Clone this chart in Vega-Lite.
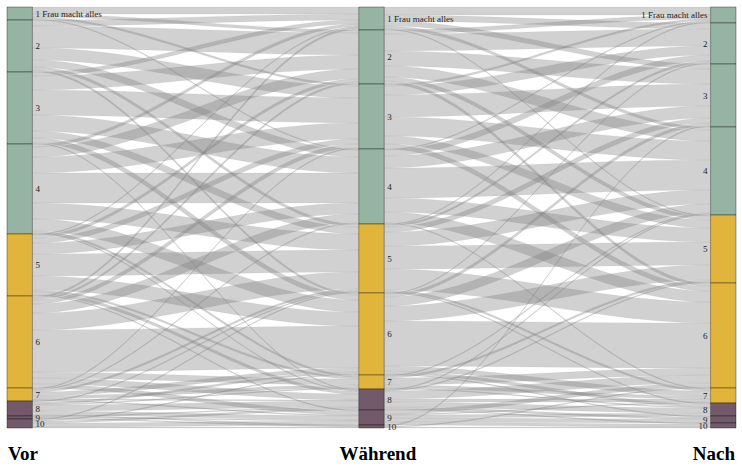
{
  "$schema": "https://vega.github.io/schema/vega-lite/v6.json",
  "width": 729,
  "height": 421,
  "autosize": {"type": "none"},
  "padding": {"left": 7, "top": 7, "right": 6, "bottom": 42},
  "background": "white",
  "config": {"view": {"stroke": null}},
  "data": {"values": [
    {"seg":0,"src":1,"dst":1,"n":7},{"seg":0,"src":1,"dst":2,"n":3},{"seg":0,"src":1,"dst":3,"n":2},{"seg":0,"src":1,"dst":4,"n":1},
    {"seg":0,"src":2,"dst":1,"n":6},{"seg":0,"src":2,"dst":2,"n":22},{"seg":0,"src":2,"dst":3,"n":12},{"seg":0,"src":2,"dst":4,"n":7},{"seg":0,"src":2,"dst":5,"n":3},{"seg":0,"src":2,"dst":6,"n":2},
    {"seg":0,"src":3,"dst":1,"n":4},{"seg":0,"src":3,"dst":2,"n":14},{"seg":0,"src":3,"dst":3,"n":25},{"seg":0,"src":3,"dst":4,"n":16},{"seg":0,"src":3,"dst":5,"n":7},{"seg":0,"src":3,"dst":6,"n":5},{"seg":0,"src":3,"dst":8,"n":1},
    {"seg":0,"src":4,"dst":1,"n":3},{"seg":0,"src":4,"dst":2,"n":10},{"seg":0,"src":4,"dst":3,"n":16},{"seg":0,"src":4,"dst":4,"n":30},{"seg":0,"src":4,"dst":5,"n":16},{"seg":0,"src":4,"dst":6,"n":12},{"seg":0,"src":4,"dst":7,"n":2},{"seg":0,"src":4,"dst":8,"n":1},
    {"seg":0,"src":5,"dst":1,"n":1},{"seg":0,"src":5,"dst":2,"n":3},{"seg":0,"src":5,"dst":3,"n":5},{"seg":0,"src":5,"dst":4,"n":11},{"seg":0,"src":5,"dst":5,"n":22},{"seg":0,"src":5,"dst":6,"n":14},{"seg":0,"src":5,"dst":7,"n":2},{"seg":0,"src":5,"dst":8,"n":3},{"seg":0,"src":5,"dst":9,"n":1},
    {"seg":0,"src":6,"dst":1,"n":2},{"seg":0,"src":6,"dst":2,"n":2},{"seg":0,"src":6,"dst":3,"n":4},{"seg":0,"src":6,"dst":4,"n":9},{"seg":0,"src":6,"dst":5,"n":17},{"seg":0,"src":6,"dst":6,"n":42},{"seg":0,"src":6,"dst":7,"n":6},{"seg":0,"src":6,"dst":8,"n":6},{"seg":0,"src":6,"dst":9,"n":4},
    {"seg":0,"src":7,"dst":3,"n":1},{"seg":0,"src":7,"dst":4,"n":1},{"seg":0,"src":7,"dst":5,"n":2},{"seg":0,"src":7,"dst":6,"n":4},{"seg":0,"src":7,"dst":7,"n":3},{"seg":0,"src":7,"dst":8,"n":1},{"seg":0,"src":7,"dst":9,"n":1},
    {"seg":0,"src":8,"dst":5,"n":1},{"seg":0,"src":8,"dst":6,"n":2},{"seg":0,"src":8,"dst":7,"n":1},{"seg":0,"src":8,"dst":8,"n":6},{"seg":0,"src":8,"dst":9,"n":4},{"seg":0,"src":8,"dst":10,"n":1},
    {"seg":0,"src":9,"dst":8,"n":1},{"seg":0,"src":9,"dst":9,"n":1},{"seg":0,"src":9,"dst":10,"n":1},
    {"seg":0,"src":10,"dst":5,"n":1},{"seg":0,"src":10,"dst":6,"n":1},{"seg":0,"src":10,"dst":8,"n":2},{"seg":0,"src":10,"dst":9,"n":4},{"seg":0,"src":10,"dst":10,"n":1},
    {"seg":1,"src":1,"dst":1,"n":8},{"seg":1,"src":1,"dst":2,"n":6},{"seg":1,"src":1,"dst":3,"n":5},{"seg":1,"src":1,"dst":4,"n":3},{"seg":1,"src":1,"dst":5,"n":1},
    {"seg":1,"src":2,"dst":1,"n":4},{"seg":1,"src":2,"dst":2,"n":17},{"seg":1,"src":2,"dst":3,"n":15},{"seg":1,"src":2,"dst":4,"n":11},{"seg":1,"src":2,"dst":5,"n":4},{"seg":1,"src":2,"dst":6,"n":3},
    {"seg":1,"src":3,"dst":1,"n":2},{"seg":1,"src":3,"dst":2,"n":9},{"seg":1,"src":3,"dst":3,"n":22},{"seg":1,"src":3,"dst":4,"n":19},{"seg":1,"src":3,"dst":5,"n":8},{"seg":1,"src":3,"dst":6,"n":5},
    {"seg":1,"src":4,"dst":1,"n":1},{"seg":1,"src":4,"dst":2,"n":6},{"seg":1,"src":4,"dst":3,"n":12},{"seg":1,"src":4,"dst":4,"n":30},{"seg":1,"src":4,"dst":5,"n":14},{"seg":1,"src":4,"dst":6,"n":11},{"seg":1,"src":4,"dst":7,"n":1},
    {"seg":1,"src":5,"dst":1,"n":1},{"seg":1,"src":5,"dst":2,"n":2},{"seg":1,"src":5,"dst":3,"n":5},{"seg":1,"src":5,"dst":4,"n":14},{"seg":1,"src":5,"dst":5,"n":23},{"seg":1,"src":5,"dst":6,"n":21},{"seg":1,"src":5,"dst":7,"n":2},{"seg":1,"src":5,"dst":8,"n":1},
    {"seg":1,"src":6,"dst":2,"n":1},{"seg":1,"src":6,"dst":3,"n":3},{"seg":1,"src":6,"dst":4,"n":9},{"seg":1,"src":6,"dst":5,"n":15},{"seg":1,"src":6,"dst":6,"n":45},{"seg":1,"src":6,"dst":7,"n":5},{"seg":1,"src":6,"dst":8,"n":3},{"seg":1,"src":6,"dst":9,"n":1},
    {"seg":1,"src":7,"dst":4,"n":1},{"seg":1,"src":7,"dst":5,"n":2},{"seg":1,"src":7,"dst":6,"n":7},{"seg":1,"src":7,"dst":7,"n":3},{"seg":1,"src":7,"dst":8,"n":1},
    {"seg":1,"src":8,"dst":4,"n":1},{"seg":1,"src":8,"dst":5,"n":1},{"seg":1,"src":8,"dst":6,"n":8},{"seg":1,"src":8,"dst":7,"n":3},{"seg":1,"src":8,"dst":8,"n":5},{"seg":1,"src":8,"dst":9,"n":2},{"seg":1,"src":8,"dst":10,"n":1},
    {"seg":1,"src":9,"dst":6,"n":4},{"seg":1,"src":9,"dst":7,"n":1},{"seg":1,"src":9,"dst":8,"n":3},{"seg":1,"src":9,"dst":9,"n":4},{"seg":1,"src":9,"dst":10,"n":3},
    {"seg":1,"src":10,"dst":3,"n":1},{"seg":1,"src":10,"dst":6,"n":1},{"seg":1,"src":10,"dst":10,"n":1}
  ]},
  "layer": [
    {
      "transform": [
        {"window": [{"op": "sum", "field": "n", "as": "l1"}], "groupby": ["seg"], "sort": [{"field": "src"}, {"field": "dst"}], "frame": [null, 0]},
        {"window": [{"op": "sum", "field": "n", "as": "r1"}], "groupby": ["seg"], "sort": [{"field": "dst"}, {"field": "src"}], "frame": [null, 0]},
        {"calculate": "'f' + datum.seg + '_' + datum.src + '_' + datum.dst", "as": "fid"},
        {"fold": ["p0", "p1", "p2", "p3"], "as": ["pk", "pv"]},
        {"calculate": "datum.seg + 0.0361 + (datum.pk == 'p0' ? 0 : datum.pk == 'p1' ? 0.01 : datum.pk == 'p2' ? 0.99 : 1) * 0.9278", "as": "ax_x"},
        {"calculate": "(datum.pk == 'p0' || datum.pk == 'p1') ? datum.l1 - datum.n : datum.r1 - datum.n", "as": "ax_y"},
        {"calculate": "(datum.pk == 'p0' || datum.pk == 'p1') ? datum.l1 : datum.r1", "as": "ax_y2"}
      ],
      "mark": {"type": "area", "interpolate": "monotone", "fill": "#7f7f7f", "fillOpacity": 0.36, "stroke": "#7f7f7f", "strokeOpacity": 0.25, "strokeWidth": 0.3},
      "encoding": {
        "x": {"field": "ax_x", "type": "quantitative", "scale": {"domain": [-0.0361, 2.0361], "nice": false, "zero": false}, "axis": null},
        "y": {"field": "ax_y", "type": "quantitative", "scale": {"domain": [0, 421], "reverse": true, "nice": false, "zero": false}, "axis": null},
        "y2": {"field": "ax_y2"},
        "detail": {"field": "fid", "type": "nominal"}
      }
    },
    {
      "transform": [
        {"fold": ["e0", "e1"], "as": ["end", "v"]},
        {"filter": "datum.end == 'e0' || datum.seg == 1"},
        {"calculate": "datum.end == 'e0' ? datum.seg : datum.seg + 1", "as": "ax"},
        {"calculate": "datum.end == 'e0' ? datum.src : datum.dst", "as": "cat"},
        {"aggregate": [{"op": "sum", "field": "n", "as": "tot"}], "groupby": ["ax", "cat"]},
        {"window": [{"op": "sum", "field": "tot", "as": "b1"}], "groupby": ["ax"], "sort": [{"field": "cat"}], "frame": [null, 0]},
        {"calculate": "datum.b1 - datum.tot", "as": "b0"},
        {"calculate": "datum.ax - 0.0361", "as": "bx"},
        {"calculate": "datum.ax + 0.0361", "as": "bx2"}
      ],
      "mark": {"type": "rect", "stroke": "#000", "strokeOpacity": 0.35, "strokeWidth": 1},
      "encoding": {
        "x": {"field": "bx", "type": "quantitative", "scale": {"domain": [-0.0361, 2.0361], "nice": false, "zero": false}, "axis": null},
        "x2": {"field": "bx2"},
        "y": {"field": "b0", "type": "quantitative", "scale": {"domain": [0, 421], "reverse": true, "nice": false, "zero": false}, "axis": null},
        "y2": {"field": "b1"},
        "color": {"field": "cat", "type": "ordinal", "legend": null,
                  "scale": {"domain": [1,2,3,4,5,6,7,8,9,10], "range": ["#95b4a4","#95b4a4","#95b4a4","#95b4a4","#e1b53b","#e1b53b","#e1b53b","#735a6a","#735a6a","#735a6a"]}}
      }
    },
    {
      "transform": [
        {"fold": ["e0", "e1"], "as": ["end", "v"]},
        {"filter": "datum.end == 'e0' || datum.seg == 1"},
        {"calculate": "datum.end == 'e0' ? datum.seg : datum.seg + 1", "as": "ax"},
        {"calculate": "datum.end == 'e0' ? datum.src : datum.dst", "as": "cat"},
        {"aggregate": [{"op": "sum", "field": "n", "as": "tot"}], "groupby": ["ax", "cat"]},
        {"window": [{"op": "sum", "field": "tot", "as": "b1"}], "groupby": ["ax"], "sort": [{"field": "cat"}], "frame": [null, 0]},
        {"calculate": "datum.b1 - datum.tot / 2", "as": "bm"},
        {"calculate": "datum.ax + 0.0361", "as": "lx"},
        {"calculate": "datum.cat == 1 ? '1 Frau macht alles' : '' + datum.cat", "as": "lab"},
        {"filter": "datum.ax < 2"}
      ],
      "mark": {"type": "text", "align": "left", "baseline": "middle", "dx": 3, "font": "Liberation Serif", "fontSize": 9, "color": "#222"},
      "encoding": {
        "x": {"field": "lx", "type": "quantitative", "scale": {"domain": [-0.0361, 2.0361], "nice": false, "zero": false}, "axis": null},
        "y": {"field": "bm", "type": "quantitative", "scale": {"domain": [0, 421], "reverse": true, "nice": false, "zero": false}, "axis": null},
        "text": {"field": "lab"}
      }
    },
    {
      "transform": [
        {"filter": "datum.seg == 1"},
        {"aggregate": [{"op": "sum", "field": "n", "as": "tot"}], "groupby": ["dst"]},
        {"window": [{"op": "sum", "field": "tot", "as": "b1"}], "sort": [{"field": "dst"}], "frame": [null, 0]},
        {"calculate": "datum.b1 - datum.tot / 2", "as": "bm"},
        {"calculate": "2 - 0.0361", "as": "lx"},
        {"calculate": "datum.dst == 1 ? '1 Frau macht alles' : '' + datum.dst", "as": "lab"}
      ],
      "mark": {"type": "text", "align": "right", "baseline": "middle", "dx": -3, "font": "Liberation Serif", "fontSize": 9, "color": "#222"},
      "encoding": {
        "x": {"field": "lx", "type": "quantitative", "scale": {"domain": [-0.0361, 2.0361], "nice": false, "zero": false}, "axis": null},
        "y": {"field": "bm", "type": "quantitative", "scale": {"domain": [0, 421], "reverse": true, "nice": false, "zero": false}, "axis": null},
        "text": {"field": "lab"}
      }
    },
    {
      "data": {"values": [{"ax": 0, "name": "Vor"}, {"ax": 1, "name": "Während"}, {"ax": 2, "name": "Nach"}]},
      "transform": [
        {"calculate": "datum.ax == 0 ? datum.ax - 0.0361 : datum.ax == 1 ? datum.ax + 0.018 : datum.ax + 0.0361", "as": "tx"}
      ],
      "layer": [
        {
          "transform": [{"filter": "datum.ax == 0"}],
          "mark": {"type": "text", "align": "left", "baseline": "alphabetic", "dx": 1, "font": "Liberation Serif", "fontWeight": "bold", "fontSize": 19, "color": "#000"},
          "encoding": {
            "x": {"field": "tx", "type": "quantitative", "scale": {"domain": [-0.0361, 2.0361], "nice": false, "zero": false}, "axis": null},
            "y": {"datum": 453, "type": "quantitative", "scale": {"domain": [0, 421], "reverse": true, "nice": false, "zero": false}, "axis": null},
            "text": {"field": "name"}
          }
        },
        {
          "transform": [{"filter": "datum.ax == 1"}],
          "mark": {"type": "text", "align": "center", "baseline": "alphabetic", "font": "Liberation Serif", "fontWeight": "bold", "fontSize": 19, "color": "#000"},
          "encoding": {
            "x": {"field": "tx", "type": "quantitative", "scale": {"domain": [-0.0361, 2.0361], "nice": false, "zero": false}, "axis": null},
            "y": {"datum": 453, "type": "quantitative", "scale": {"domain": [0, 421], "reverse": true, "nice": false, "zero": false}, "axis": null},
            "text": {"field": "name"}
          }
        },
        {
          "transform": [{"filter": "datum.ax == 2"}],
          "mark": {"type": "text", "align": "right", "baseline": "alphabetic", "dx": -1, "font": "Liberation Serif", "fontWeight": "bold", "fontSize": 19, "color": "#000"},
          "encoding": {
            "x": {"field": "tx", "type": "quantitative", "scale": {"domain": [-0.0361, 2.0361], "nice": false, "zero": false}, "axis": null},
            "y": {"datum": 453, "type": "quantitative", "scale": {"domain": [0, 421], "reverse": true, "nice": false, "zero": false}, "axis": null},
            "text": {"field": "name"}
          }
        }
      ]
    }
  ]
}
